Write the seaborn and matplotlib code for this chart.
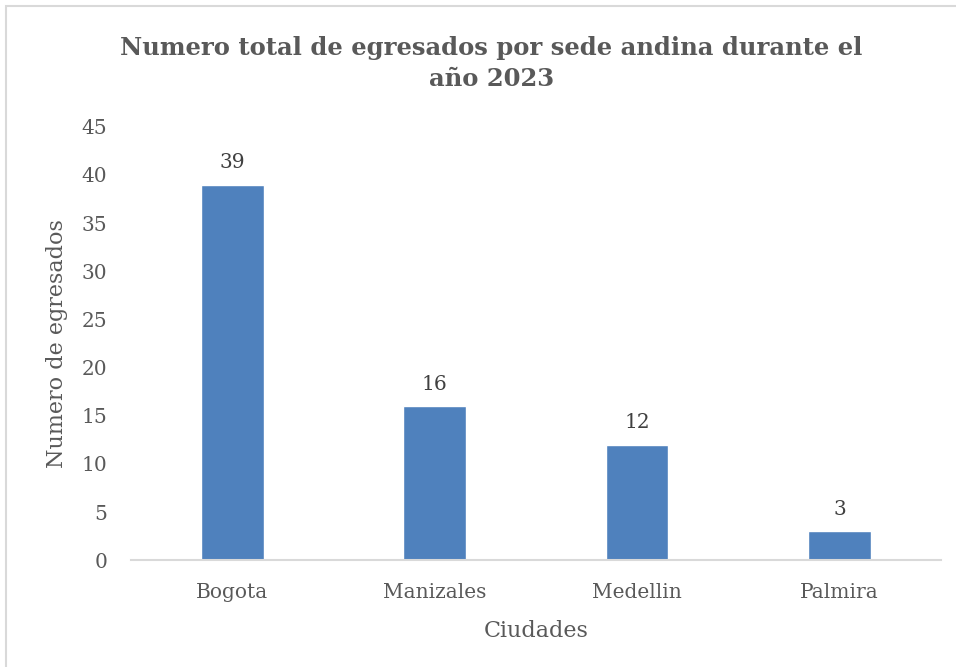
import matplotlib
matplotlib.use("Agg")
import matplotlib.pyplot as plt
import seaborn as sns
import pandas as pd
from matplotlib.patches import Rectangle

# Datos
ciudades = ["Bogota", "Manizales", "Medellin", "Palmira"]
egresados = [39, 16, 12, 3]
y_ticks = [0, 5, 10, 15, 20, 25, 30, 35, 40, 45]

df = pd.DataFrame({"Ciudades": ciudades, "Egresados": egresados})

sns.set_theme(style="white")
plt.rcParams["font.family"] = ["DejaVu Serif"]
gris = "#595959"

fig = plt.figure(figsize=(9.56, 6.67), dpi=100)
ax = fig.add_axes([0.137, 0.160, 0.847, 0.650])

sns.barplot(data=df, x="Ciudades", y="Egresados", color="#4F81BD",
            saturation=1, width=0.31, ax=ax)

for p, v in zip(ax.patches, egresados):
    ax.text(p.get_x() + p.get_width() / 2, v + 1.3, str(v),
            ha="center", va="bottom", fontsize=14.5, color="#404040")

ax.set_ylim(0, 45)
ax.set_yticks(y_ticks)
ax.set_xlim(-0.5, len(ciudades) - 0.5)
ax.tick_params(axis="both", labelsize=14.5, colors=gris, length=0)
ax.tick_params(axis="x", pad=16)
ax.tick_params(axis="y", pad=17)

for side in ["top", "right", "left"]:
    ax.spines[side].set_visible(False)
ax.spines["bottom"].set_color("#D9D9D9")
ax.spines["bottom"].set_linewidth(1.5)

ax.set_xlabel("Ciudades", fontsize=16, color=gris, labelpad=13)
ax.set_ylabel("Numero de egresados", fontsize=16, color=gris, labelpad=10)

fig.text(0.514, 0.905, "Numero total de egresados por sede andina durante el\naño 2023",
         ha="center", va="center", fontsize=17.5, fontweight="bold", color=gris,
         linespacing=1.35)

# borde del grafico (solo arriba e izquierda visibles)
fig.patches.append(Rectangle((6 / 956, -0.05), 1.2, 1 - 6 / 667 + 0.05,
                             transform=fig.transFigure, fill=False,
                             edgecolor="#D9D9D9", linewidth=1.5))

fig.savefig("out.png", dpi=100)
